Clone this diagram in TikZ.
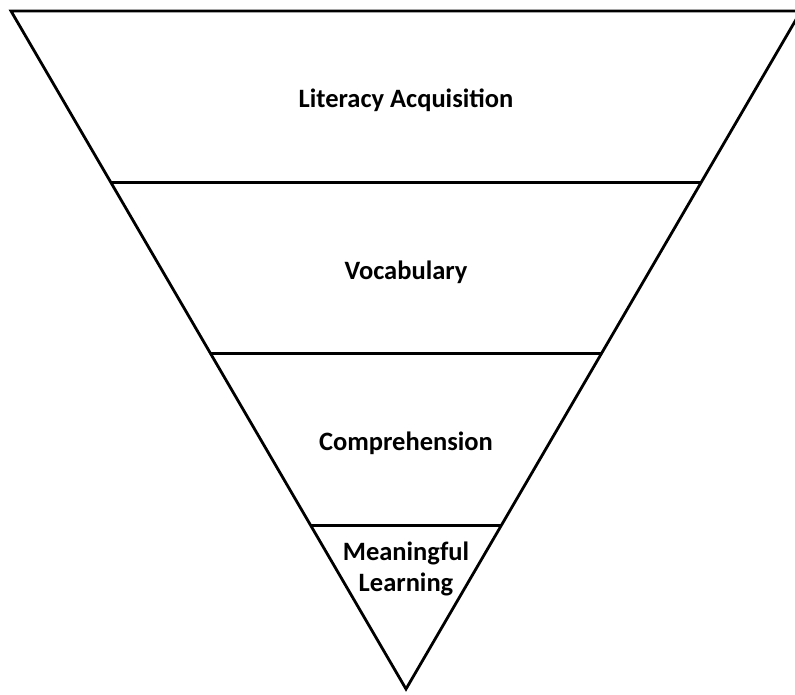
\documentclass[tikz,border=0pt]{standalone}
\usepackage{fontspec}
\setmainfont{Carlito}
\usetikzlibrary{calc}
\usetikzlibrary{positioning}

\begin{document}
\begin{tikzpicture}[x=1pt, y=-1pt, line width=2.8pt,
    lvl/.style={font=\bfseries\fontsize{26.5}{31}\selectfont, align=center, inner sep=0pt},
  ]
\useasboundingbox (0,0) rectangle (795,694);
% outer funnel
\coordinate (tl) at (11,11);
\coordinate (tr) at (801,11);
\coordinate (ap) at (406,689);
% band boundaries on both sides
\coordinate (l1) at ($(tl)!0.2526!(ap)$); \coordinate (r1) at ($(tr)!0.2526!(ap)$);
\coordinate (l2) at ($(tl)!0.5051!(ap)$); \coordinate (r2) at ($(tr)!0.5051!(ap)$);
\coordinate (l3) at ($(tl)!0.7592!(ap)$); \coordinate (r3) at ($(tr)!0.7592!(ap)$);

\draw (tl) -- (tr) -- (ap) -- cycle;
\draw (l1) -- (r1);
\draw (l2) -- (r2);
\draw (l3) -- (r3);

% labels
\node (lit)[lvl] at (406,100) {Literacy Acquisition};
\node (voc)[lvl] at (406,272) {Vocabulary};
\node (comp)[lvl] at (406,443) {Comprehension};
\node (mean)[lvl] at (406,569) {Meaningful\\Learning};
\end{tikzpicture}
\end{document}
